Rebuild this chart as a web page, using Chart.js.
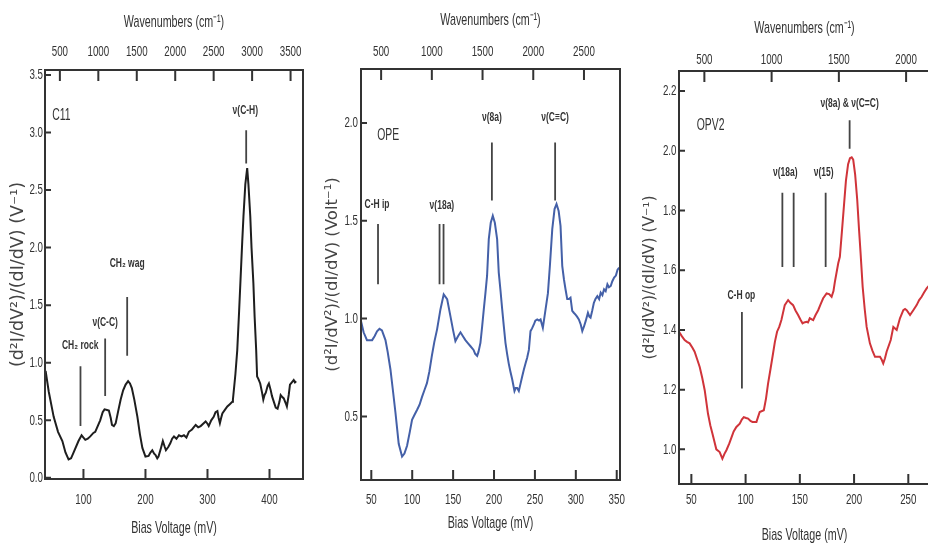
<!DOCTYPE html>
<html>
<head>
<meta charset="utf-8">
<script src="https://cdn.jsdelivr.net/npm/chart.js@4.4.0/dist/chart.umd.min.js"></script>
<style>
html, body { margin: 0; padding: 0; background: #fff; overflow: hidden; width: 928px; height: 543px; }
canvas { position: absolute; top: 0; }
</style>
</head>
<body>
<canvas id="c11" width="310" height="543" style="left:0px"></canvas>
<canvas id="ope" width="320" height="543" style="left:310px"></canvas>
<canvas id="opv2" width="340" height="548" style="left:620px"></canvas>
<script>
// cm-1 per mV
const K = 8.0655;

// C11 spectrum
const c11Bias = [39, 44, 52, 59, 66, 71, 76, 80, 84, 92, 97, 100, 103, 107, 111, 116, 119, 123, 127, 131, 134, 138, 141, 144, 146, 149, 152, 156, 160, 164, 168, 172, 175, 178, 182, 187, 191, 195, 200, 205, 208, 211, 214, 216, 219, 221, 225, 228, 231, 233, 237, 240, 243, 246, 250, 254, 258, 262, 266, 270, 275, 278, 281, 285, 289, 293, 297, 300, 302, 306, 310, 313, 316, 318, 320, 322, 324, 328, 332, 336, 340, 341, 345, 348, 351, 353, 356, 358, 361, 364, 366, 369, 371, 374, 376, 378.5, 380, 382, 385, 388, 390, 392, 394, 397, 399, 402, 404, 407, 410, 413, 416, 418, 421, 423, 426, 428, 431, 433, 436, 439, 441, 443];
const c11Signal = [0.93, 0.75, 0.53, 0.40, 0.32, 0.22, 0.16, 0.17, 0.22, 0.32, 0.37, 0.35, 0.33, 0.34, 0.36, 0.39, 0.40, 0.45, 0.50, 0.57, 0.595, 0.59, 0.585, 0.52, 0.46, 0.45, 0.475, 0.58, 0.68, 0.76, 0.81, 0.84, 0.82, 0.78, 0.68, 0.53, 0.38, 0.26, 0.185, 0.19, 0.22, 0.24, 0.21, 0.20, 0.17, 0.185, 0.26, 0.32, 0.27, 0.24, 0.27, 0.30, 0.34, 0.36, 0.34, 0.37, 0.36, 0.37, 0.35, 0.40, 0.42, 0.44, 0.46, 0.44, 0.45, 0.47, 0.49, 0.47, 0.45, 0.50, 0.53, 0.57, 0.58, 0.52, 0.475, 0.52, 0.56, 0.59, 0.62, 0.64, 0.66, 0.68, 0.90, 1.11, 1.45, 1.69, 2.05, 2.27, 2.55, 2.69, 2.55, 2.27, 2.0, 1.69, 1.40, 1.11, 0.88, 0.86, 0.82, 0.74, 0.68, 0.72, 0.74, 0.80, 0.82, 0.76, 0.71, 0.66, 0.61, 0.60, 0.66, 0.72, 0.70, 0.69, 0.65, 0.62, 0.72, 0.81, 0.83, 0.85, 0.83, 0.84];

// OPE spectrum
const opeBias = [37.5, 40.6, 44.7, 48, 51, 54, 57, 60, 63, 67.3, 70, 73.4, 76.5, 79.5, 83.5, 87.6, 90.5, 93.7, 97, 99.8, 103, 106, 109, 112, 115, 118, 121, 124, 127, 130.4, 134.5, 138.5, 142.7, 146.7, 150, 152.8, 156, 159, 162, 165, 168, 171, 175, 177, 179.4, 181, 183.4, 185.5, 187.5, 189.5, 191.5, 193.6, 196, 198.5, 201, 203.8, 205.8, 208, 210, 212, 214, 216, 218, 220, 222.2, 225, 226.5, 228.3, 230.3, 232, 234.5, 236.5, 238.5, 240.5, 242.6, 244.6, 246.5, 248.7, 250.5, 252.8, 255, 256.9, 259.7, 263, 265.9, 268.3, 271.2, 274, 276.4, 279, 281.3, 283.4, 285.5, 287.4, 289.5, 291.5, 293.5, 295.6, 297.5, 299.6, 301.5, 303.7, 306, 307.9, 310, 312, 314.8, 316.5, 318, 320, 322, 324, 326.3, 328.5, 330.4, 332.5, 334.5, 336.5, 338.6, 340.5, 342.7, 344.5, 346.8, 349, 351, 353];
const opeSignal = [0.985, 0.93, 0.89, 0.89, 0.89, 0.91, 0.935, 0.948, 0.94, 0.89, 0.83, 0.74, 0.63, 0.52, 0.36, 0.295, 0.31, 0.35, 0.42, 0.483, 0.51, 0.534, 0.56, 0.60, 0.635, 0.67, 0.73, 0.81, 0.88, 0.945, 1.047, 1.124, 1.10, 1.013, 0.94, 0.885, 0.91, 0.93, 0.91, 0.89, 0.875, 0.86, 0.84, 0.82, 0.81, 0.83, 0.876, 0.96, 1.047, 1.13, 1.218, 1.406, 1.49, 1.526, 1.49, 1.406, 1.235, 1.14, 1.047, 0.96, 0.876, 0.82, 0.77, 0.73, 0.69, 0.63, 0.645, 0.645, 0.63, 0.66, 0.705, 0.74, 0.77, 0.80, 0.84, 0.936, 0.95, 0.97, 0.99, 0.996, 0.99, 0.996, 0.953, 1.047, 1.13, 1.27, 1.457, 1.56, 1.586, 1.55, 1.474, 1.27, 1.20, 1.15, 1.10, 1.10, 1.107, 1.04, 1.03, 1.02, 1.01, 0.996, 0.97, 0.936, 0.96, 0.987, 1.03, 1.01, 1.005, 1.04, 1.08, 1.10, 1.115, 1.10, 1.133, 1.12, 1.15, 1.14, 1.175, 1.16, 1.167, 1.19, 1.21, 1.22, 1.25, 1.26];

// OPV2 spectrum
const opv2Bias = [38.6, 41, 43.8, 46, 48.4, 51, 53, 55.5, 57.7, 60, 62.3, 65.3, 67.5, 69.4, 71, 73, 76.1, 78.6, 80.5, 82.3, 85, 87, 89, 91.5, 94.6, 96.5, 98.3, 100.5, 102.3, 104.5, 106.3, 110, 113, 116.8, 118.8, 120.7, 123, 125.3, 127, 129, 131, 133, 136.1, 139.2, 141.5, 143.8, 146, 148.4, 150.5, 152.5, 154, 156.2, 157.5, 159.2, 162.3, 164.5, 166.9, 169, 171.5, 174.7, 177, 179.3, 181, 182.3, 185.4, 186.9, 188.8, 190.6, 192.5, 194.5, 196.2, 197.8, 199.2, 201, 202.9, 204.5, 206, 207.9, 209.8, 211.6, 214.6, 217, 219.3, 221.5, 223.9, 225.5, 226.9, 228.5, 230, 233.8, 236.2, 239.3, 242.3, 245.4, 247, 248.5, 251.6, 254.6, 257.7, 260, 262.3, 264.5, 266.9, 269.5];
const opv2Signal = [1.394, 1.38, 1.366, 1.36, 1.355, 1.34, 1.327, 1.30, 1.276, 1.24, 1.198, 1.12, 1.08, 1.053, 1.03, 1.0, 0.991, 0.969, 0.985, 0.997, 1.02, 1.04, 1.06, 1.075, 1.086, 1.10, 1.108, 1.105, 1.103, 1.095, 1.092, 1.092, 1.125, 1.131, 1.17, 1.22, 1.27, 1.321, 1.36, 1.394, 1.41, 1.433, 1.483, 1.50, 1.49, 1.483, 1.465, 1.45, 1.435, 1.422, 1.425, 1.427, 1.425, 1.439, 1.433, 1.45, 1.466, 1.485, 1.506, 1.522, 1.52, 1.511, 1.53, 1.561, 1.623, 1.645, 1.73, 1.813, 1.90, 1.955, 1.975, 1.978, 1.97, 1.92, 1.836, 1.74, 1.657, 1.545, 1.47, 1.41, 1.355, 1.33, 1.31, 1.31, 1.31, 1.30, 1.288, 1.305, 1.327, 1.366, 1.41, 1.40, 1.439, 1.466, 1.47, 1.466, 1.45, 1.466, 1.483, 1.50, 1.511, 1.525, 1.539, 1.55];

// tick labels
const c11BiasTicks = [100, 200, 300, 400];
const c11WaveTicks = [500, 1000, 1500, 2000, 2500, 3000, 3500];
const c11SignalTicks = [0, 0.5, 1.0, 1.5, 2.0, 2.5, 3.0, 3.5];
const opeBiasTicks = [50, 100, 150, 200, 250, 300, 350];
const opeWaveTicks = [500, 1000, 1500, 2000, 2500];
const opeSignalTicks = [0.5, 1.0, 1.5, 2.0];
const opv2BiasTicks = [50, 100, 150, 200, 250];
const opv2WaveTicks = [500, 1000, 1500, 2000];
const opv2SignalTicks = [1.0, 1.2, 1.4, 1.6, 1.8, 2.0, 2.2];

// vibrational mode markers (mV, signal)
const c11Modes = [
    { label: 'ν(C-H)', at: [362.4], from: 2.73, to: 3.02, labelX: 361, labelY: 3.19 },
    { label: 'CH₂ wag', at: [170.5], from: 1.06, to: 1.57, labelX: 170.5, labelY: 1.86 },
    { label: 'ν(C-C)', at: [135], from: 0.71, to: 1.21, labelX: 135, labelY: 1.35 },
    { label: 'CH₂ rock', at: [95.2], from: 0.45, to: 0.97, labelX: 94.7, labelY: 1.15 }
];
const opeModes = [
    { label: 'C-H ip', at: [58.2], from: 1.176, to: 1.484, labelX: 57, labelY: 1.587 },
    { label: 'ν(18a)', at: [133.4, 138.3], from: 1.176, to: 1.484, labelX: 136.3, labelY: 1.577 },
    { label: 'ν(8a)', at: [197.4], from: 1.604, to: 1.9, labelX: 197.4, labelY: 2.028 },
    { label: 'ν(C≡C)', at: [274.7], from: 1.604, to: 1.9, labelX: 274.7, labelY: 2.028 }
];
const opv2Modes = [
    { label: 'ν(8a) & ν(C=C)', at: [195.9], from: 2.007, to: 2.102, labelX: 195.9, labelY: 2.159 },
    { label: 'ν(18a)', at: [133.9, 144.3], from: 1.611, to: 1.859, labelX: 136.6, labelY: 1.928 },
    { label: 'ν(15)', at: [173.8], from: 1.611, to: 1.859, labelX: 172, labelY: 1.928 },
    { label: 'C-H op', at: [96.6], from: 1.204, to: 1.46, labelX: 96.1, labelY: 1.516 }
];

const SANS = '"Liberation Sans", Arial, sans-serif';
const INK = '#333';
// the figure uses a condensed face, so text is squeezed sideways
const SQUEEZE = 0.63;

const squeezeText = canvas => {
    const ctx = canvas.getContext('2d');
    const fill = ctx.fillText.bind(ctx);
    ctx.fillText = function (text, x, y, maxWidth) {
        if (this.font.indexOf('DejaVu') >= 0) {
            return maxWidth === undefined ? fill(text, x, y) : fill(text, x, y, maxWidth);
        }
        this.save();
        this.translate(x, y);
        this.scale(SQUEEZE, 1);
        if (maxWidth === undefined) fill(text, 0, 0);
        else fill(text, 0, 0, maxWidth / SQUEEZE);
        this.restore();
    };
    return canvas;
};

// draws frame, inward ticks, mode markers and the molecule name
const decor = (modes, name) => ({
    id: 'decor',
    afterDatasetsDraw(chart) {
        const { ctx, chartArea: a, scales } = chart;
        const px = v => scales.x.getPixelForValue(v);
        const py = v => scales.y.getPixelForValue(v);
        ctx.save();
        ctx.strokeStyle = INK;
        ctx.lineWidth = 2;
        ctx.strokeRect(a.left, a.top, a.right - a.left, a.bottom - a.top);
        ctx.beginPath();
        scales.x.ticks.forEach(t => { ctx.moveTo(px(t.value), a.bottom); ctx.lineTo(px(t.value), a.bottom - 10); });
        scales.x2.ticks.forEach(t => {
            const p = scales.x2.getPixelForValue(t.value);
            ctx.moveTo(p, a.top); ctx.lineTo(p, a.top + 11);
        });
        scales.y.ticks.forEach(t => { ctx.moveTo(a.left, py(t.value)); ctx.lineTo(a.left + 6, py(t.value)); });
        ctx.stroke();

        ctx.strokeStyle = '#444';
        ctx.lineWidth = 1.8;
        ctx.beginPath();
        modes.forEach(m => m.at.forEach(v => {
            ctx.moveTo(px(v), py(m.from));
            ctx.lineTo(px(v), py(m.to));
        }));
        ctx.stroke();

        ctx.fillStyle = INK;
        ctx.textAlign = 'center';
        ctx.textBaseline = 'middle';
        ctx.font = 'bold 13.5px ' + SANS;
        modes.forEach(m => ctx.fillText(m.label, px(m.labelX), py(m.labelY)));
        ctx.textAlign = 'left';
        ctx.font = '16.5px ' + SANS;
        ctx.fillText(name.text, px(name.x), py(name.y));
        ctx.restore();
    }
});

const makePanel = (id, p) => {
    const tickFont = { family: SANS, size: 15.5 };
    const titleFont = { family: SANS, size: 17 };
    const fixTicks = arr => scale => { scale.ticks = arr.map(v => ({ value: v })); };
    return new Chart(squeezeText(document.getElementById(id)), {
        type: 'line',
        data: {
            datasets: [{
                data: p.bias.map((b, i) => ({ x: b, y: p.signal[i] })),
                borderColor: p.color,
                borderWidth: 2,
                pointRadius: 0,
                tension: 0,
                fill: false
            }]
        },
        options: {
            responsive: false,
            animation: false,
            layout: { padding: { left: 0, top: 0, bottom: 0, right: p.padRight } },
            plugins: { legend: { display: false }, tooltip: { enabled: false } },
            scales: {
                x: {
                    type: 'linear', position: 'bottom', min: p.xMin, max: p.xMax,
                    grid: { display: false, drawTicks: false }, border: { display: false },
                    afterBuildTicks: fixTicks(p.biasTicks),
                    ticks: { autoSkip: false, maxRotation: 0, color: INK, font: tickFont, padding: p.bottomTickPad, callback: v => String(v) },
                    title: { display: true, text: 'Bias Voltage (mV)', color: INK, font: titleFont, padding: { top: 0, bottom: p.bottomTitlePad } },
                    afterFit: s => { s.height = p.bottomH; s.paddingLeft = 0; s.paddingRight = 0; }
                },
                x2: {
                    type: 'linear', axis: 'x', position: 'top', min: p.xMin * K, max: p.xMax * K,
                    grid: { display: false, drawTicks: false }, border: { display: false },
                    afterBuildTicks: fixTicks(p.waveTicks),
                    ticks: { autoSkip: false, maxRotation: 0, color: INK, font: tickFont, padding: p.topTickPad, callback: v => String(v) },
                    title: { display: true, text: 'Wavenumbers (cm⁻¹)', color: INK, font: titleFont, padding: { top: p.topTitlePad, bottom: 0 } },
                    afterFit: s => { s.height = p.topH; s.paddingLeft = 0; s.paddingRight = 0; }
                },
                y: {
                    type: 'linear', position: 'left', min: p.yMin, max: p.yMax,
                    grid: { display: false, drawTicks: false }, border: { display: false },
                    afterBuildTicks: fixTicks(p.signalTicks),
                    ticks: { autoSkip: false, color: INK, font: tickFont, padding: p.leftTickPad, callback: v => v.toFixed(1) },
                    title: { display: true, text: p.yTitle, color: '#444', font: { family: '"DejaVu Sans", sans-serif', size: p.yTitleSize }, padding: { top: p.yTitlePad, bottom: 0 } },
                    afterFit: s => { s.width = p.leftW; s.paddingTop = 0; s.paddingBottom = 0; }
                }
            }
        },
        plugins: [decor(p.modes, p.name)]
    });
};

const chartC11 = makePanel('c11', {
    bias: c11Bias, signal: c11Signal, color: '#1e1e1e',
    biasTicks: c11BiasTicks, waveTicks: c11WaveTicks, signalTicks: c11SignalTicks,
    modes: c11Modes, name: { text: 'C11', x: 49.5, y: 3.15 },
    xMin: 38, xMax: 454, yMin: -0.01, yMax: 3.543,
    leftW: 45, topH: 70, bottomH: 64, padRight: 7,
    topTickPad: 8.7, topTitlePad: 11.8, bottomTickPad: 11.7, bottomTitlePad: 4.8, leftTickPad: 2,
    yTitle: '(d²I/dV²)/(dI/dV) (V⁻¹)', yTitleSize: 17.5, yTitlePad: 7.5
});

const chartOPE = makePanel('ope', {
    bias: opeBias, signal: opeSignal, color: '#4460a8',
    biasTicks: opeBiasTicks, waveTicks: opeWaveTicks, signalTicks: opeSignalTicks,
    modes: opeModes, name: { text: 'OPE', x: 57.3, y: 1.936 },
    xMin: 37.4, xMax: 354, yMin: 0.175, yMax: 2.276,
    leftW: 51, topH: 69, bottomH: 63, padRight: 10,
    topTickPad: 7.7, topTitlePad: 9.8, bottomTickPad: 10.7, bottomTitlePad: 9.8, leftTickPad: 3,
    yTitle: '(d²I/dV²)/(dI/dV) (Volt⁻¹)', yTitleSize: 16.5, yTitlePad: 13
});

const chartOPV2 = makePanel('opv2', {
    bias: opv2Bias, signal: opv2Signal, color: '#d0343a',
    biasTicks: opv2BiasTicks, waveTicks: opv2WaveTicks, signalTicks: opv2SignalTicks,
    modes: opv2Modes, name: { text: 'OPV2', x: 54.9, y: 2.085 },
    xMin: 38.6, xMax: 270, yMin: 0.884, yMax: 2.267,
    leftW: 59, topH: 71, bottomH: 64, padRight: 30,
    topTickPad: 1.7, topTitlePad: 17.8, bottomTickPad: 6.7, bottomTitlePad: 2.8, leftTickPad: 2.5,
    yTitle: '(d²I/dV²)/(dI/dV) (V⁻¹)', yTitleSize: 15.5, yTitlePad: 20.6
});
</script>
</body>
</html>
